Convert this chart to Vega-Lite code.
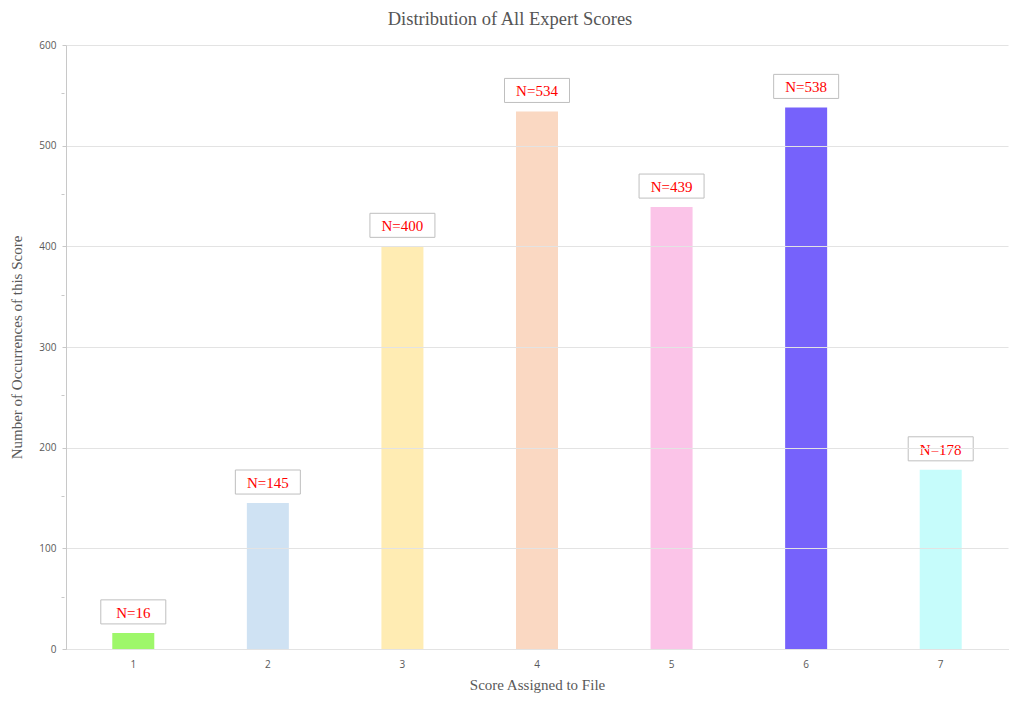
{
  "$schema": "https://vega.github.io/schema/vega-lite/v6.json",
  "width": 942,
  "height": 604,
  "autosize": {"type": "none"},
  "padding": {"left": 66, "top": 45, "right": 14, "bottom": 60},
  "background": "white",
  "title": {
    "text": "Distribution of All Expert Scores",
    "font": "Liberation Serif",
    "fontSize": 18.5,
    "fontWeight": "normal",
    "color": "#555555",
    "dx": -27,
    "offset": 12
  },
  "config": {
    "view": {"stroke": null},
    "axis": {
      "labelFont": "Open Sans",
      "labelFontSize": 10,
      "labelColor": "#595959",
      "titleFont": "Liberation Serif",
      "titleFontSize": 15,
      "titleFontWeight": "normal",
      "titleColor": "#595959",
      "domainColor": "#c8c8c8",
      "tickColor": "#c8c8c8"
    }
  },
  "data": {
    "values": [
      {"score": "1", "count": 16, "label": "N=16"},
      {"score": "2", "count": 145, "label": "N=145"},
      {"score": "3", "count": 400, "label": "N=400"},
      {"score": "4", "count": 534, "label": "N=534"},
      {"score": "5", "count": 439, "label": "N=439"},
      {"score": "6", "count": 538, "label": "N=538"},
      {"score": "7", "count": 178, "label": "N=178"}
    ]
  },
  "encoding": {
    "x": {
      "field": "score",
      "type": "ordinal",
      "scale": {"paddingInner": 0, "paddingOuter": 0},
      "axis": {
        "title": "Score Assigned to File",
        "labelAngle": 0,
        "ticks": false,
        "labelPadding": 10,
        "titlePadding": 8,
        "grid": false
      }
    }
  },
  "layer": [
    {
      "mark": {"type": "bar", "size": 42},
      "encoding": {
        "y": {
          "field": "count",
          "type": "quantitative",
          "scale": {"domain": [0, 600]},
          "axis": {
            "title": "Number of Occurrences of this Score",
            "values": [0, 100, 200, 300, 400, 500, 600],
            "grid": true,
            "gridColor": "#e3e3e3",
            "zindex": 1,
            "tickSize": 4,
            "labelPadding": 6,
            "titlePadding": 14
          }
        },
        "color": {
          "field": "score",
          "type": "nominal",
          "scale": {
            "domain": ["1", "2", "3", "4", "5", "6", "7"],
            "range": ["#9ef76a", "#cfe2f3", "#ffecb3", "#fad8c2", "#fbc4e8", "#7662fb", "#c6fcfb"]
          },
          "legend": null
        }
      }
    },
    {
      "mark": {"type": "tick", "opacity": 0},
      "encoding": {
        "y": {
          "field": "count",
          "type": "quantitative",
          "axis": {
            "orient": "left",
            "values": [50, 150, 250, 350, 450, 550],
            "labels": false,
            "domain": false,
            "grid": false,
            "title": null,
            "tickSize": 3,
            "translate": -1.5
          }
        }
      }
    },
    {
      "mark": {
        "type": "point",
        "shape": "M-1,-0.37L1,-0.37L1,0.37L-1,0.37Z",
        "size": 4225,
        "filled": true,
        "fill": "white",
        "stroke": "#bfbfbf",
        "strokeWidth": 1,
        "opacity": 1,
        "yOffset": -21,
        "zindex": 2
      },
      "encoding": {
        "y": {"field": "count", "type": "quantitative", "axis": null}
      }
    },
    {
      "mark": {
        "type": "text",
        "font": "Liberation Serif",
        "fontSize": 15,
        "color": "#ff0000",
        "baseline": "middle",
        "align": "center",
        "yOffset": -20,
        "zindex": 3
      },
      "encoding": {
        "y": {"field": "count", "type": "quantitative", "axis": null},
        "text": {"field": "label"}
      }
    }
  ],
  "resolve": {"axis": {"y": "independent"}}
}
